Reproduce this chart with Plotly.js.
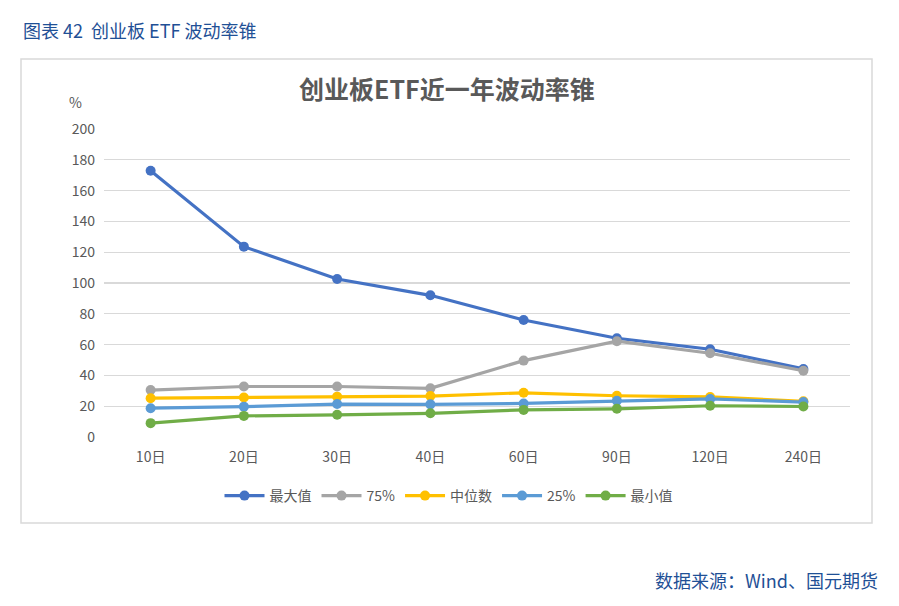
<!DOCTYPE html>
<html>
<head>
<meta charset="utf-8">
<script src="https://cdn.plot.ly/plotly-3.0.1.min.js"></script>
<style>
html,body{margin:0;padding:0;background:#fff;}
#chart{width:899px;height:606px;}
</style>
</head>
<body>
<div id="chart"></div>
<script>
const categories = ["10日","20日","30日","40日","60日","90日","120日","240日"];
const seriesNames = ["最大值","75%","中位数","25%","最小值"];
const maxVals = [172.9, 123.6, 102.6, 92.0, 76.0, 64.1, 57.0, 44.2];
const p75Vals = [30.5, 32.8, 32.8, 31.6, 49.6, 62.2, 54.4, 43.0];
const medVals = [25.2, 25.7, 26.2, 26.6, 28.7, 26.8, 26.0, 23.2];
const p25Vals = [18.7, 19.7, 21.4, 21.2, 21.8, 23.5, 24.7, 22.7];
const minVals = [9.0, 13.7, 14.4, 15.4, 17.6, 18.3, 20.3, 19.8];
const colors = ["#4472c4","#a5a5a5","#ffc000","#5b9bd5","#70ad47"];
const yTicks = [0,20,40,60,80,100,120,140,160,180,200];

const W = 899, H = 606;
const L = 104, R = 850, T = 129, B = 437;
const px = x => (x - L) / (R - L);
const py = y => (B - y) / (B - T);

const font = "'Noto Sans CJK SC', 'Noto Sans', sans-serif";
const allVals = [maxVals, p75Vals, medVals, p25Vals, minVals];
const traces = allVals.map((v, i) => ({
  type: "scatter",
  mode: "lines+markers",
  name: seriesNames[i],
  x: categories,
  y: v,
  line: {color: colors[i], width: 3.2},
  marker: {color: colors[i], size: 10}
}));

const layout = {
  width: W, height: H,
  margin: {l: L, r: W - R, t: T, b: H - B},
  paper_bgcolor: "#fff",
  plot_bgcolor: "#fff",
  showlegend: true,
  legend: {
    orientation: "h", x: px(449), xanchor: "center", y: py(496), yanchor: "middle",
    font: {family: font, size: 14, color: "#595959"},
    itemwidth: 40, tracegroupgap: 0
  },
  xaxis: {
    type: "category",
    range: [-0.5, 7.5],
    showgrid: false, zeroline: false, showline: false,
    ticks: "",
    ticklabelstandoff: 10,
    tickfont: {family: font, size: 14, color: "#595959"},
    fixedrange: true
  },
  yaxis: {
    range: [0, 200],
    tickvals: yTicks,
    ticktext: yTicks.map(String),
    showgrid: true, gridcolor: "#d9d9d9", gridwidth: 1.3,
    zeroline: false, showline: false, ticks: "",
    ticklabelstandoff: 8,
    tickfont: {family: font, size: 14, color: "#595959"},
    fixedrange: true
  },
  shapes: [{
    type: "rect", xref: "paper", yref: "paper",
    x0: px(21), x1: px(872), y0: py(59), y1: py(523),
    line: {color: "#d9d9d9", width: 1.5}, fillcolor: "rgba(0,0,0,0)", layer: "below"
  }],
  annotations: [
    {text: "<b>创业板ETF近一年波动率锥</b>", xref: "paper", yref: "paper",
     x: px(447), y: py(88), xanchor: "center", yanchor: "middle", showarrow: false,
     font: {family: font, size: 25, color: "#595959"}},
    {text: "%", xref: "paper", yref: "paper",
     x: px(75), y: py(102), xanchor: "center", yanchor: "middle", showarrow: false,
     font: {family: font, size: 14, color: "#595959"}},
    {text: "图表 42  创业板 ETF 波动率锥", xref: "paper", yref: "paper",
     x: px(21), y: py(30), xanchor: "left", yanchor: "middle", showarrow: false,
     font: {family: font, size: 18, color: "#1f5096"}},
    {text: "数据来源：Wind、国元期货", xref: "paper", yref: "paper",
     x: px(880), y: py(580), xanchor: "right", yanchor: "middle", showarrow: false,
     font: {family: font, size: 18, color: "#1f5096"}}
  ]
};

Plotly.newPlot("chart", traces, layout, {displayModeBar: false, staticPlot: true});
</script>
</body>
</html>
